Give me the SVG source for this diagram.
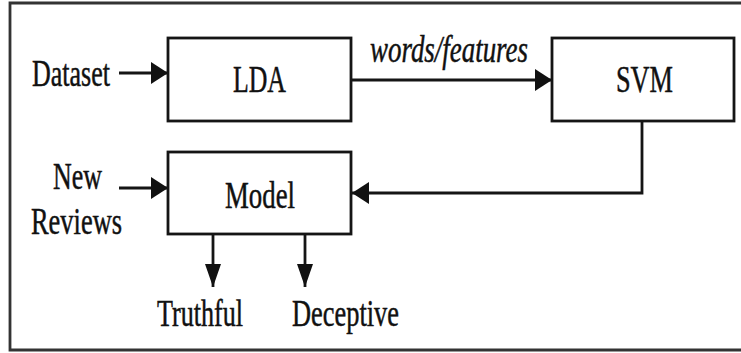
<svg xmlns="http://www.w3.org/2000/svg" width="741" height="353" viewBox="0 0 741 353">
<style>
.box{fill:#fff;stroke:#151515;stroke-width:2.8}
.t{font-family:"Liberation Serif","Times New Roman",Times,serif;font-size:38px;fill:#111;stroke:#111;stroke-width:0.5}
.it{font-style:italic}
.ln{stroke:#151515;stroke-width:2.8;fill:none}
</style>
<defs>
<marker id="ah" markerUnits="userSpaceOnUse" markerWidth="17" markerHeight="22" refX="17" refY="11" orient="auto">
<path d="M0,0 L17,11 L0,22 z" fill="#111"/>
</marker>
<marker id="av" markerUnits="userSpaceOnUse" markerWidth="23" markerHeight="16" refX="23" refY="8" orient="auto">
<path d="M0,0 L23,8 L0,16 z" fill="#111"/>
</marker>
</defs>
<rect width="741" height="353" fill="#fff"/>
<path d="M745,3 H10 V350 H745" fill="none" stroke="#333" stroke-width="2.8"/>
<g id="connectors">
<line class="ln" x1="119" y1="73" x2="168" y2="73" marker-end="url(#ah)"/>
<line class="ln" x1="351" y1="80" x2="552" y2="80" marker-end="url(#ah)"/>
<polyline class="ln" points="642,121 642,193 352,193" marker-end="url(#ah)"/>
<line class="ln" x1="119" y1="188" x2="168" y2="188" marker-end="url(#ah)"/>
<line class="ln" x1="213" y1="234" x2="213" y2="287" marker-end="url(#av)"/>
<line class="ln" x1="305" y1="234" x2="305" y2="287" marker-end="url(#av)"/>
<text class="t it" x="370" y="62" textLength="158" lengthAdjust="spacingAndGlyphs">words/features</text>
</g>
<g id="dataset"><text class="t" x="32" y="86" textLength="78" lengthAdjust="spacingAndGlyphs">Dataset</text></g>
<g id="lda"><rect class="box" x="168" y="38" width="183" height="83"/><text class="t" x="233" y="92" textLength="53" lengthAdjust="spacingAndGlyphs">LDA</text></g>
<g id="svm"><rect class="box" x="552" y="38" width="182" height="83"/><text class="t" x="616" y="92" textLength="57" lengthAdjust="spacingAndGlyphs">SVM</text></g>
<g id="model"><rect class="box" x="168" y="152" width="183" height="82"/><text class="t" x="225" y="208" textLength="70" lengthAdjust="spacingAndGlyphs">Model</text></g>
<g id="new-reviews"><text class="t" x="53" y="189" textLength="49" lengthAdjust="spacingAndGlyphs">New</text><text class="t" x="31" y="234" textLength="91" lengthAdjust="spacingAndGlyphs">Reviews</text></g>
<g id="truthful"><text class="t" x="157" y="326" textLength="86" lengthAdjust="spacingAndGlyphs">Truthful</text></g>
<g id="deceptive"><text class="t" x="292" y="326" textLength="107" lengthAdjust="spacingAndGlyphs">Deceptive</text></g>
</svg>
